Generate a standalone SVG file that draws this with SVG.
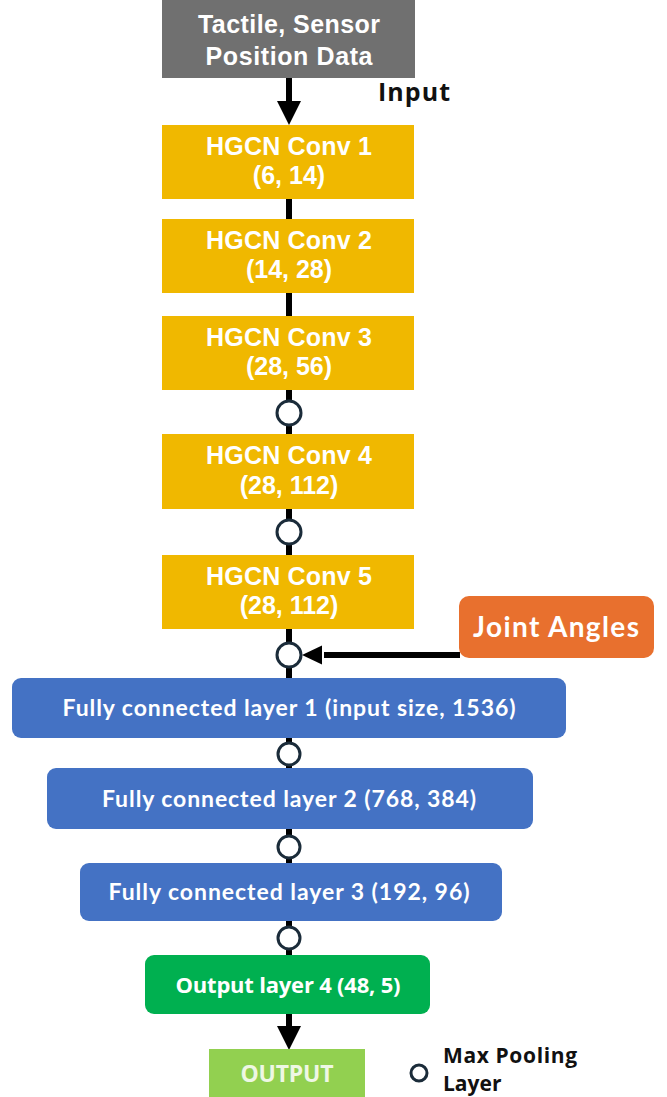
<svg xmlns="http://www.w3.org/2000/svg" width="667" height="1097" viewBox="0 0 667 1097">
  <style>
    .t { font-family: "Open Sans", "Liberation Sans", sans-serif; font-weight: 700; fill: #ffffff; text-anchor: middle; }
    .h { font-family: "Liberation Sans", Arial, sans-serif; font-weight: 700; fill: #ffffff; text-anchor: middle; font-size: 25px; }
    .fc { font-family: Lato, "Open Sans", sans-serif; font-weight: 700; fill: #ffffff; text-anchor: middle; font-size: 23px; }
    .lbl { font-family: "Open Sans", "Liberation Sans", sans-serif; font-weight: 700; fill: #111111; }
    .conv { fill: #f0b800; }
    .blue { fill: #4472c4; }
    .link { stroke: #000000; stroke-width: 6; fill: none; }
    .pool { fill: #ffffff; stroke: #1b2c3a; stroke-width: 3; }
  </style>
  <defs>
    <marker id="head" viewBox="0 0 10 10" refX="0" refY="5" markerWidth="4" markerHeight="4" orient="auto" markerUnits="strokeWidth">
      <path d="M0,0 L10,5 L0,10 Z" fill="#000000"/>
    </marker>
  </defs>

  <rect width="667" height="1097" fill="#ffffff"/>

  <!-- connectors -->
  <g id="connectors">
    <line class="link" x1="289" y1="78" x2="289" y2="101" marker-end="url(#head)"/>
    <line class="link" x1="289" y1="199" x2="289" y2="219"/>
    <line class="link" x1="289" y1="293" x2="289" y2="316"/>
    <line class="link" x1="289" y1="390" x2="289" y2="434"/>
    <line class="link" x1="289" y1="509" x2="289" y2="555"/>
    <line class="link" x1="289" y1="629" x2="289" y2="678"/>
    <line class="link" x1="289" y1="738" x2="289" y2="768"/>
    <line class="link" x1="289" y1="829" x2="289" y2="863"/>
    <line class="link" x1="289" y1="921" x2="289" y2="955"/>
    <line class="link" x1="289" y1="1014" x2="289" y2="1026" marker-end="url(#head)"/>
    <line class="link" stroke-width="5" x1="460" y1="655" x2="324" y2="655"/>
    <path d="M322,645.5 L302,655 L322,664.5 Z" fill="#000000"/>
  </g>

  <!-- max pooling layers -->
  <g id="pools">
    <circle class="pool" cx="289" cy="413" r="12"/>
    <circle class="pool" cx="289" cy="532" r="12"/>
    <circle class="pool" cx="289" cy="655" r="12"/>
    <circle class="pool" cx="289" cy="754" r="11"/>
    <circle class="pool" cx="289" cy="847" r="11"/>
    <circle class="pool" cx="289" cy="938" r="11"/>
  </g>

  <g id="input-data">
    <rect x="162" y="0" width="253" height="78" fill="#707070"/>
    <text class="h" x="289" y="33" textLength="182" lengthAdjust="spacing">Tactile, Sensor</text>
    <text class="h" x="289" y="65" textLength="167" lengthAdjust="spacing">Position Data</text>
  </g>

  <g id="input-label">
    <text class="lbl" x="378" y="101" font-size="25" textLength="72" lengthAdjust="spacing">Input</text>
  </g>

  <g id="conv1">
    <rect class="conv" x="162" y="125" width="252" height="74"/>
    <text class="h" x="289" y="155" textLength="166" lengthAdjust="spacing">HGCN Conv 1</text>
    <text class="h" x="289" y="184">(6, 14)</text>
  </g>
  <g id="conv2">
    <rect class="conv" x="162" y="219" width="252" height="74"/>
    <text class="h" x="289" y="249" textLength="166" lengthAdjust="spacing">HGCN Conv 2</text>
    <text class="h" x="289" y="278">(14, 28)</text>
  </g>
  <g id="conv3">
    <rect class="conv" x="162" y="316" width="252" height="74"/>
    <text class="h" x="289" y="346" textLength="166" lengthAdjust="spacing">HGCN Conv 3</text>
    <text class="h" x="289" y="375">(28, 56)</text>
  </g>
  <g id="conv4">
    <rect class="conv" x="162" y="434" width="252" height="75"/>
    <text class="h" x="289" y="464" textLength="166" lengthAdjust="spacing">HGCN Conv 4</text>
    <text class="h" x="289" y="494">(28, 112)</text>
  </g>
  <g id="conv5">
    <rect class="conv" x="162" y="555" width="252" height="74"/>
    <text class="h" x="289" y="585" textLength="166" lengthAdjust="spacing">HGCN Conv 5</text>
    <text class="h" x="289" y="614">(28, 112)</text>
  </g>

  <g id="joint-angles">
    <rect x="459" y="596" width="195" height="62" rx="10" fill="#e8702e"/>
    <text class="fc" x="556" y="637" style="font-size:28px" textLength="166" lengthAdjust="spacing">Joint Angles</text>
  </g>

  <g id="fc1">
    <rect class="blue" x="12" y="678" width="554" height="60" rx="9"/>
    <text class="fc" x="289" y="716" textLength="453" lengthAdjust="spacing">Fully connected layer 1 (input size, 1536)</text>
  </g>
  <g id="fc2">
    <rect class="blue" x="47" y="768" width="486" height="61" rx="9"/>
    <text class="fc" x="289" y="807" textLength="374" lengthAdjust="spacing">Fully connected layer 2 (768, 384)</text>
  </g>
  <g id="fc3">
    <rect class="blue" x="80" y="863" width="422" height="58" rx="9"/>
    <text class="fc" x="289" y="900" textLength="361" lengthAdjust="spacing">Fully connected layer 3 (192, 96)</text>
  </g>

  <g id="output-layer">
    <rect x="145" y="955" width="285" height="59" rx="9" fill="#00b050"/>
    <text class="t" x="288" y="993" font-size="22" textLength="225" lengthAdjust="spacing">Output layer 4 (48, 5)</text>
  </g>

  <g id="output">
    <rect x="209" y="1049" width="156" height="48" fill="#92d050"/>
    <text class="t" x="287" y="1082" font-size="23" style="fill:#eef7e4" textLength="93" lengthAdjust="spacing">OUTPUT</text>
  </g>

  <g id="legend">
    <circle class="pool" cx="419" cy="1073" r="8"/>
    <text class="lbl" x="443" y="1063" font-size="21" textLength="134" lengthAdjust="spacing">Max Pooling</text>
    <text class="lbl" x="443" y="1091" font-size="21">Layer</text>
  </g>
</svg>
